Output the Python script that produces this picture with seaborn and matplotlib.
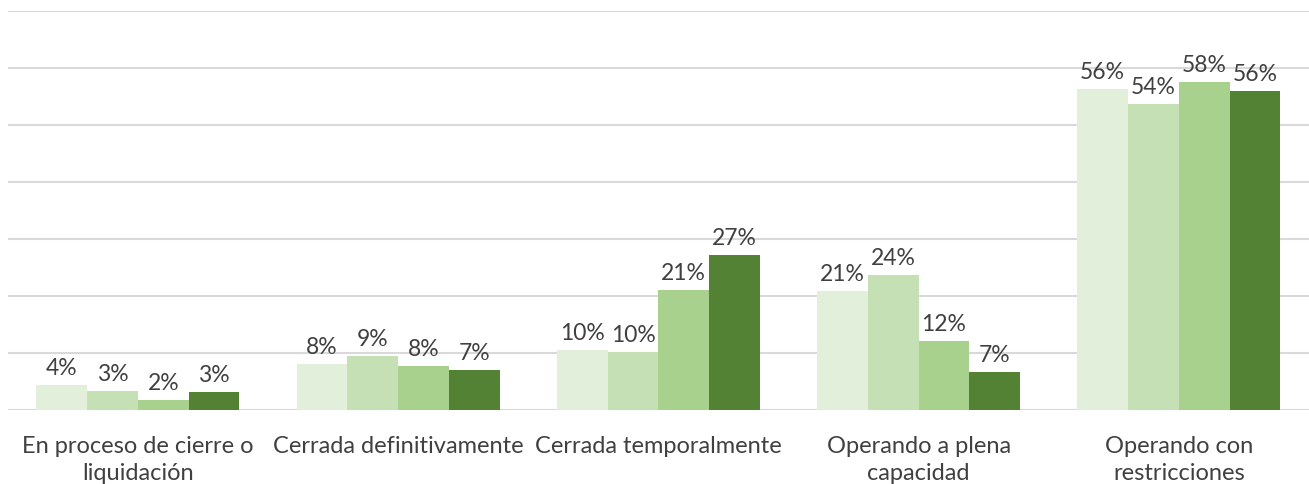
import matplotlib
matplotlib.use('Agg')
import matplotlib.pyplot as plt
import seaborn as sns
import pandas as pd

# Data (share of companies, %)
categories = ['En proceso de cierre o\nliquidación', 'Cerrada definitivamente',
              'Cerrada temporalmente', 'Operando a plena\ncapacidad',
              'Operando con\nrestricciones']
series = ['Serie 1', 'Serie 2', 'Serie 3', 'Serie 4']
serie_1 = [4.4, 8.1, 10.5, 20.9, 56.4]
serie_2 = [3.3, 9.4, 10.2, 23.7, 53.7]
serie_3 = [1.8, 7.7, 21.0, 12.1, 57.6]
serie_4 = [3.2, 7.0, 27.2, 6.7, 56.0]
colors = ['#E2EFDA', '#C5E0B4', '#A9D18E', '#548235']

rows = []
for name, vals in zip(series, [serie_1, serie_2, serie_3, serie_4]):
    for cat, v in zip(categories, vals):
        rows.append({'categoria': cat, 'serie': name, 'valor': v})
df = pd.DataFrame(rows)

sns.set_style('white')
plt.rcParams['font.family'] = ['Lato', 'DejaVu Sans']

fig = plt.figure(figsize=(13.09, 4.85), dpi=100)
ax = fig.add_axes([0.006, 0.153, 0.994, 0.822])

sns.barplot(data=df, x='categoria', y='valor', hue='serie', palette=colors,
            width=0.78, saturation=1, legend=False, ax=ax, zorder=3,
            linewidth=0)

for cont in ax.containers:
    labels = [f'{round(v):.0f}%' for v in cont.datavalues]
    ax.bar_label(cont, labels=labels, padding=5, fontsize=16.5, color='#404040')

ax.set_ylim(0, 70)
ax.set_yticks(range(0, 71, 10))
ax.yaxis.grid(True, color='#D9D9D9', linewidth=1.5, zorder=0)
ax.tick_params(axis='y', left=False, labelleft=False)
ax.tick_params(axis='x', length=0, pad=18, labelsize=17, labelcolor='#404040')
for lbl in ax.get_xticklabels():
    lbl.set_linespacing(1.35)
for s in ax.spines.values():
    s.set_visible(False)
ax.set_xlabel('')
ax.set_ylabel('')

plt.savefig('out.png', dpi=100)
plt.close()
